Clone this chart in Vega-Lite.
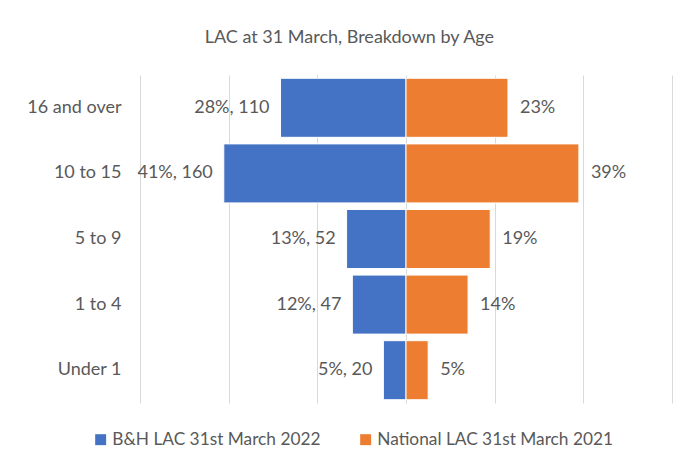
{
  "$schema": "https://vega.github.io/schema/vega-lite/v6.json",
  "autosize": {"type": "none"},
  "padding": {"left": 140, "top": 75, "right": 15, "bottom": 71},
  "width": 532,
  "height": 328,
  "background": "white",
  "title": {
    "text": "LAC at 31 March, Breakdown by Age",
    "font": "Lato",
    "fontSize": 18,
    "fontWeight": "normal",
    "color": "#595959",
    "anchor": "middle",
    "frame": "bounds",
    "offset": 28
  },
  "config": {
    "view": {"stroke": null},
    "font": "Lato"
  },
  "data": {
    "values": [
      {"age": "16 and over", "series": "B&H LAC 31st March 2022", "value": -28.3, "label": "28%, 110"},
      {"age": "10 to 15", "series": "B&H LAC 31st March 2022", "value": -41.1, "label": "41%, 160"},
      {"age": "5 to 9", "series": "B&H LAC 31st March 2022", "value": -13.4, "label": "13%, 52"},
      {"age": "1 to 4", "series": "B&H LAC 31st March 2022", "value": -12.1, "label": "12%, 47"},
      {"age": "Under 1", "series": "B&H LAC 31st March 2022", "value": -5.1, "label": "5%, 20"},
      {"age": "16 and over", "series": "National LAC 31st March 2021", "value": 23, "label": "23%"},
      {"age": "10 to 15", "series": "National LAC 31st March 2021", "value": 39, "label": "39%"},
      {"age": "5 to 9", "series": "National LAC 31st March 2021", "value": 19, "label": "19%"},
      {"age": "1 to 4", "series": "National LAC 31st March 2021", "value": 14, "label": "14%"},
      {"age": "Under 1", "series": "National LAC 31st March 2021", "value": 5, "label": "5%"}
    ]
  },
  "encoding": {
    "y": {
      "field": "age",
      "type": "nominal",
      "sort": ["16 and over", "10 to 15", "5 to 9", "1 to 4", "Under 1"],
      "scale": {"paddingInner": 0.1, "paddingOuter": 0.05},
      "axis": {
        "title": null,
        "ticks": false,
        "domain": false,
        "labelPadding": 19,
        "labelFontSize": 18,
        "labelColor": "#595959",
        "labelFont": "Lato"
      }
    },
    "x": {
      "field": "value",
      "type": "quantitative",
      "scale": {"domain": [-60, 60], "nice": false},
      "axis": {
        "title": null,
        "labels": false,
        "ticks": false,
        "domain": false,
        "values": [-60, -40, -20, 0, 20, 40, 60],
        "grid": true,
        "gridColor": "#d9d9d9",
        "gridWidth": 1
      }
    }
  },
  "layer": [
    {
      "mark": {"type": "bar", "stroke": "white", "strokeWidth": 1},
      "encoding": {
        "color": {
          "field": "series",
          "type": "nominal",
          "scale": {
            "domain": ["B&H LAC 31st March 2022", "National LAC 31st March 2021"],
            "range": ["#4472C4", "#ED7D31"]
          },
          "legend": {
            "title": null,
            "orient": "none",
            "legendX": -48,
            "legendY": 356,
            "direction": "horizontal",
            "symbolType": "square",
            "symbolSize": 120,
            "symbolStrokeWidth": 0,
            "symbolOffset": 0,
            "labelOffset": 3,
            "labelFontSize": 17.3,
            "labelColor": "#595959",
            "labelFont": "Lato",
            "labelLimit": 0,
            "columnPadding": 36
          }
        }
      }
    },
    {
      "transform": [{"filter": "datum.value < 0"}],
      "mark": {"type": "text", "align": "right", "baseline": "middle", "dx": -11, "fontSize": 18, "color": "#595959", "font": "Lato"},
      "encoding": {"text": {"field": "label"}}
    },
    {
      "transform": [{"filter": "datum.value > 0"}],
      "mark": {"type": "text", "align": "left", "baseline": "middle", "dx": 12, "fontSize": 18, "color": "#595959", "font": "Lato"},
      "encoding": {"text": {"field": "label"}}
    }
  ]
}
